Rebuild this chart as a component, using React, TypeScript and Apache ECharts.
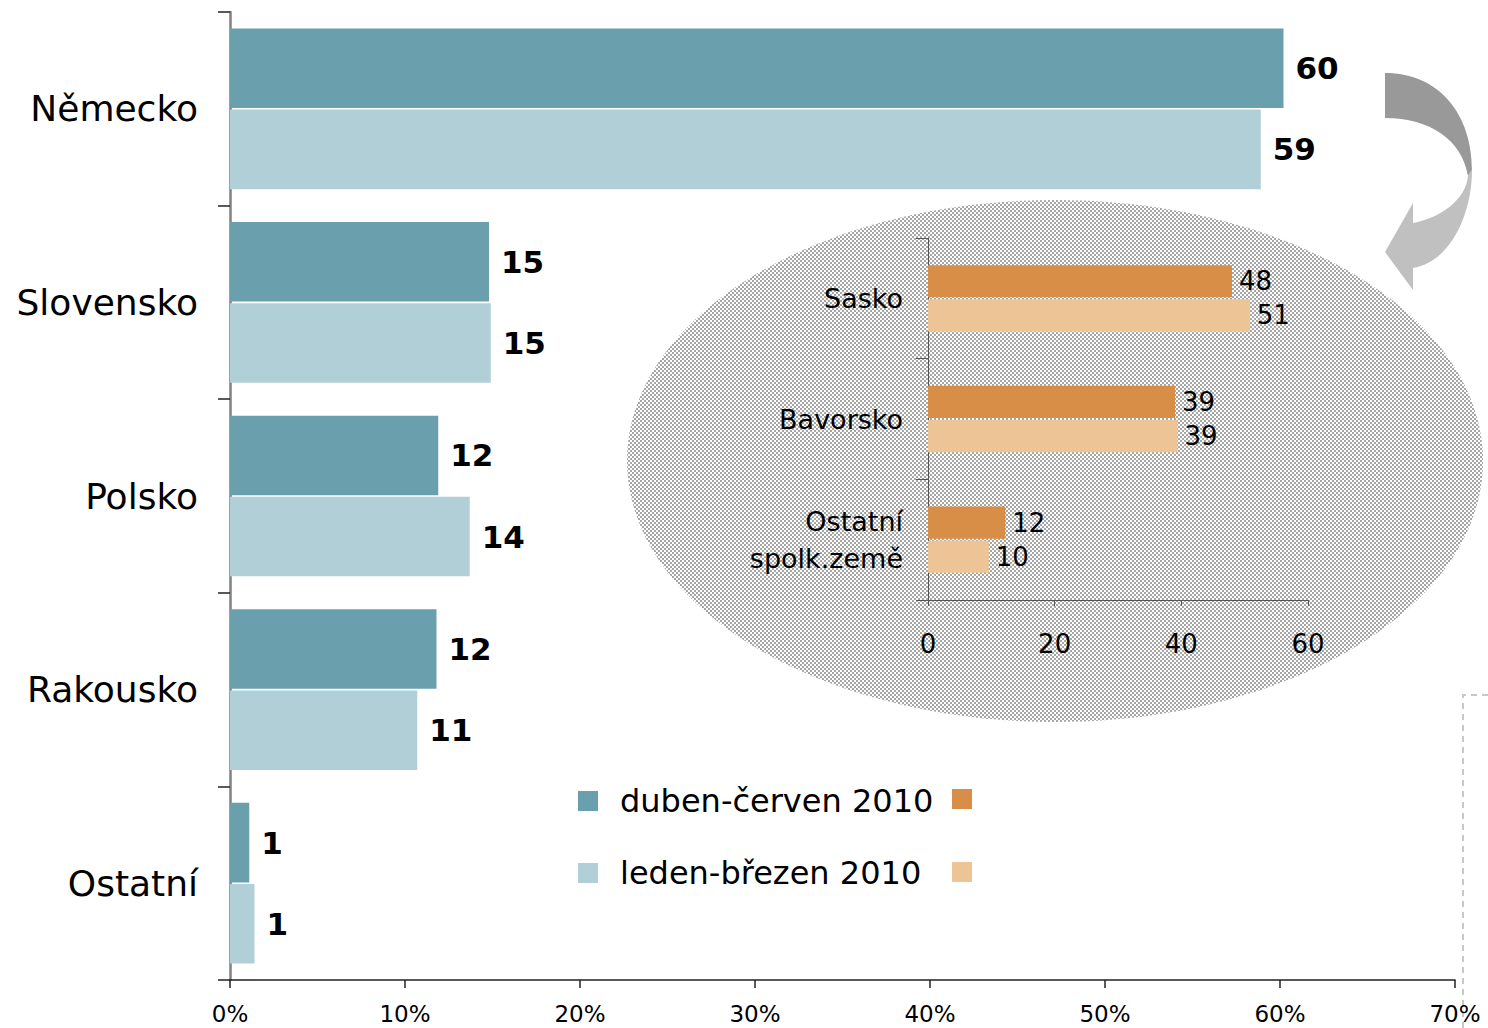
import React, { useEffect, useRef } from 'react';
import * as echarts from 'echarts';

const categories = ['Německo', 'Slovensko', 'Polsko', 'Rakousko', 'Ostatní'];
const seriesNames = ['duben-červen 2010', 'leden-březen 2010'];
const q2Values = [60.2, 14.8, 11.9, 11.8, 1.1];
const q1Values = [58.9, 14.9, 13.7, 10.7, 1.4];
const xTicks = [0, 10, 20, 30, 40, 50, 60, 70];

const insetCategories = ['Sasko', 'Bavorsko', 'Ostatní\nspolk.země'];
const insetQ2Values = [48, 39, 12.2];
const insetQ1Values = [50.8, 39.4, 9.6];
const insetTicks = [0, 20, 40, 60];

const FONT = 'DejaVu Sans';
const TEAL = '#6a9fad';
const TEAL_LIGHT = '#b0cfd6';
const ORANGE = '#d98e47';
const ORANGE_LIGHT = '#ecc496';

const ARROW_TOP =
  'M1385 73 C1440 73 1472 115 1472 170 L1468 176 C1462 140 1430 118 1385 118 Z';
const ARROW_BOTTOM =
  'M1472 170 C1472 215 1450 262 1413 268 L1413 290 L1385 252 L1413 203 L1413 223 C1440 218 1466 200 1468 176 Z';

export default function App() {
  const ref = useRef<HTMLDivElement>(null);
  useEffect(() => {
    document.body.style.margin = '0';
    const chart = echarts.init(ref.current!, null, { renderer: 'svg' });

    const cv = document.createElement('canvas');
    cv.width = 4;
    cv.height = 4;
    const ctx = cv.getContext('2d')!;
    ctx.fillStyle = '#ffffff';
    ctx.fillRect(0, 0, 4, 4);
    ctx.fillStyle = '#a6a6a6';
    ctx.fillRect(0, 0, 2, 2);
    ctx.fillRect(2, 2, 2, 2);

    echarts.graphic.registerShape('arrowTop', echarts.graphic.extendPath(ARROW_TOP, {}));
    echarts.graphic.registerShape('arrowBottom', echarts.graphic.extendPath(ARROW_BOTTOM, {}));

    const mainLabel = {
      show: true,
      position: 'right',
      distance: 12,
      fontFamily: FONT,
      fontSize: 31,
      fontWeight: 'bold',
      color: '#000',
      formatter: (p: any) => String(Math.round(p.value)),
    };
    const insetLabel = {
      show: true,
      position: 'right',
      distance: 7,
      fontFamily: FONT,
      fontSize: 26,
      color: '#000',
      formatter: (p: any) => String(Math.round(p.value)),
    };

    chart.setOption({
      animation: false,
      backgroundColor: '#fff',
      textStyle: { fontFamily: FONT },
      legend: {
        left: 573,
        top: 780,
        orient: 'vertical',
        icon: 'rect',
        itemWidth: 20,
        itemHeight: 20,
        itemGap: 40,
        selectedMode: false,
        data: seriesNames,
        textStyle: { fontFamily: FONT, fontSize: 32, color: '#000', padding: [0, 0, 0, 17] },
      },
      grid: [
        { left: 230, right: 33, top: 12, bottom: 48, containLabel: false },
        { left: 928, width: 380, top: 238, height: 362, containLabel: false },
      ],
      xAxis: [
        {
          type: 'value',
          gridIndex: 0,
          min: xTicks[0],
          max: xTicks[xTicks.length - 1],
          interval: 10,
          splitLine: { show: false },
          axisLine: { show: true, lineStyle: { color: '#222', width: 1.5 } },
          axisTick: { show: true, length: 8, lineStyle: { color: '#222', width: 1.5 } },
          axisLabel: {
            formatter: '{value}%',
            fontFamily: FONT,
            fontSize: 23,
            color: '#000',
            margin: 22,
          },
        },
        {
          type: 'value',
          gridIndex: 1,
          min: insetTicks[0],
          max: insetTicks[insetTicks.length - 1],
          interval: 20,
          splitLine: { show: false },
          axisLine: { show: true, lineStyle: { color: '#555', width: 1 } },
          axisTick: { show: true, length: 6, lineStyle: { color: '#555', width: 1 } },
          axisLabel: { fontFamily: FONT, fontSize: 26, color: '#000', margin: 31 },
        },
      ],
      yAxis: [
        {
          type: 'category',
          gridIndex: 0,
          inverse: true,
          data: categories,
          axisLine: { show: true, lineStyle: { color: '#808080', width: 2.5 } },
          axisTick: { show: true, inside: false, length: 12, lineStyle: { color: '#222', width: 1.5 } },
          axisLabel: { fontFamily: FONT, fontSize: 36, color: '#000', margin: 32 },
        },
        {
          type: 'category',
          gridIndex: 1,
          inverse: true,
          data: insetCategories,
          axisLine: { show: true, lineStyle: { color: '#555', width: 1 } },
          axisTick: { show: true, length: 12, lineStyle: { color: '#555', width: 1 } },
          axisLabel: {
            fontFamily: FONT,
            fontSize: 27,
            color: '#000',
            margin: 25,
            lineHeight: 37,
            align: 'right',
          },
        },
      ],
      series: [
        {
          name: seriesNames[0],
          type: 'bar',
          xAxisIndex: 0,
          yAxisIndex: 0,
          data: q2Values,
          barCategoryGap: '17%',
          barGap: '2%',
          itemStyle: { color: TEAL },
          label: mainLabel,
        },
        {
          name: seriesNames[1],
          type: 'bar',
          xAxisIndex: 0,
          yAxisIndex: 0,
          data: q1Values,
          barCategoryGap: '17%',
          barGap: '2%',
          itemStyle: { color: TEAL_LIGHT },
          label: mainLabel,
        },
        {
          name: seriesNames[0],
          type: 'bar',
          xAxisIndex: 1,
          yAxisIndex: 1,
          data: insetQ2Values,
          barCategoryGap: '45%',
          barGap: '6%',
          itemStyle: { color: ORANGE },
          label: insetLabel,
        },
        {
          name: seriesNames[1],
          type: 'bar',
          xAxisIndex: 1,
          yAxisIndex: 1,
          data: insetQ1Values,
          barCategoryGap: '45%',
          barGap: '6%',
          itemStyle: { color: ORANGE_LIGHT },
          label: insetLabel,
        },
      ],
      graphic: [
        {
          type: 'ellipse',
          z: -10,
          shape: { cx: 1055, cy: 461, rx: 428, ry: 261 },
          style: { fill: { image: cv, repeat: 'repeat', imageWidth: 4, imageHeight: 4 } as any },
        },
        { type: 'arrowTop', x: 0, y: 0, style: { fill: '#999999' } },
        { type: 'arrowBottom', x: 0, y: 0, style: { fill: '#c0c0c0' } },
        {
          type: 'polyline',
          shape: { points: [[1463, 1028], [1463, 695], [1488, 695]] },
          style: { stroke: '#c8c8c8', lineWidth: 2, lineDash: [6, 5], fill: 'none' },
        },
        { type: 'rect', shape: { x: 952, y: 789, width: 20, height: 20 }, style: { fill: ORANGE } },
        { type: 'rect', shape: { x: 952, y: 862, width: 20, height: 20 }, style: { fill: ORANGE_LIGHT } },
      ],
    });
    return () => chart.dispose();
  }, []);
  return <div ref={ref} style={{ width: 1488, height: 1028 }} />;
}
